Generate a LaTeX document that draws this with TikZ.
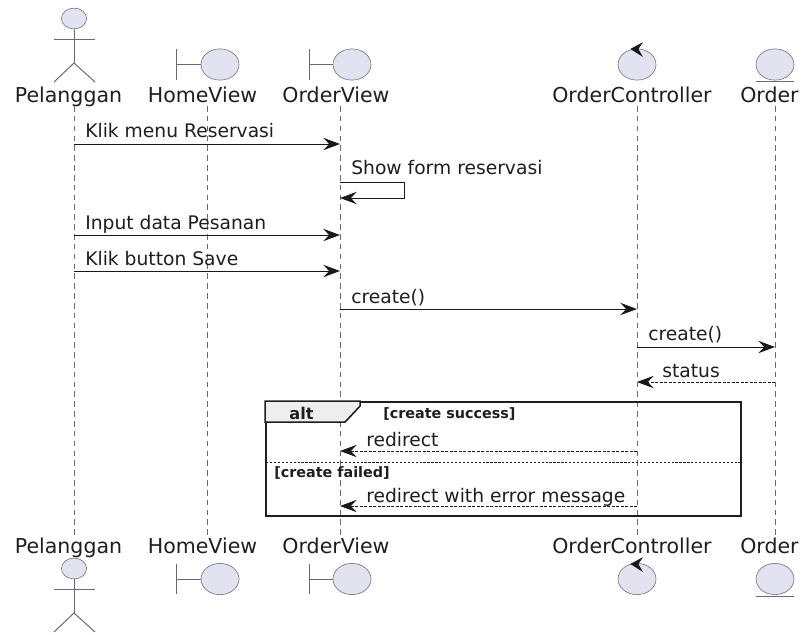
\documentclass[tikz,border=0pt]{standalone}
\usepackage{fontspec}
\setmainfont{DejaVu Sans}
\usetikzlibrary{positioning,shapes,calc,arrows.meta}
\definecolor{partfill}{RGB}{226,226,240}
\definecolor{partline}{RGB}{105,105,115}
\definecolor{inkdark}{RGB}{30,30,32}
\definecolor{tabfill}{RGB}{238,238,238}
\tikzset{
	partname/.style={font=\fontsize{14.6}{16}\selectfont, text=inkdark, inner sep=0pt, anchor=base},
	msglabel/.style={font=\fontsize{13.3}{15}\selectfont, text=inkdark, inner sep=0pt, anchor=base west},
	guardlabel/.style={font=\bfseries\fontsize{10.2}{12}\selectfont, text=inkdark, inner sep=0pt, anchor=base west},
	bubble/.style={draw=partline, fill=partfill, ellipse, inner sep=0pt, minimum width=0.95cm, minimum height=0.78cm},
	head/.style={draw=partline, fill=partfill, ellipse, inner sep=0pt, minimum width=0.63cm, minimum height=0.52cm},
	stick/.style={draw=partline, line width=0.7pt},
	lifeline/.style={draw=partline, line width=0.6pt, dash pattern=on 4pt off 3pt},
	msg/.style={draw=black!90, line width=0.7pt, -{Stealth[length=0.42cm,width=0.31cm,inset=0.15cm]}},
	reply/.style={draw=black!90, line width=0.6pt, dash pattern=on 2pt off 1.2pt, -{Stealth[length=0.42cm,width=0.31cm,inset=0.15cm]}}
}
\begin{document}
\begin{tikzpicture}[x=0.025cm,y=-0.025cm]
			\useasboundingbox (0,0) rectangle (802,634);
			
			% lifelines
			\coordinate (pt) at (74,106);
			\coordinate (pb) at (74,537);
			\coordinate (ht) at (207,106);
			\coordinate (hb) at (207,537);
			\coordinate (ot) at (340,106);
			\coordinate (ob) at (340,537);
			\coordinate (ct) at (637,106);
			\coordinate (cb) at (637,537);
			\coordinate (et) at (775,106);
			\coordinate (eb) at (775,537);
			\draw[lifeline] (pt) -- (pb);
			\draw[lifeline] (ht) -- (hb);
			\draw[lifeline] (ot) -- (ob);
			\draw[lifeline] (ct) -- (cb);
			\draw[lifeline] (et) -- (eb);
			
			% actors
			\node[head] (actor) at (74,18.5) {};
			\coordinate (hip) at (74,63);
			\draw[stick] (actor) -- (hip);
			\draw[stick] (54,39) -- (95,39);
			\draw[stick] (54,82) -- (hip) -- (95,82);
			
			\node[head] (actor2) at (74,568.5) {};
			\coordinate (hip2) at (74,613);
			\draw[stick] (actor2) -- (hip2);
			\draw[stick] (54,589) -- (95,589);
			\draw[stick] (54,632) -- (hip2) -- (95,632);
			
			% top row
			\node[partname] (pelanggan) at (68.5,102) {Pelanggan};
			\node[partname] (homeview) at (202.5,102) {HomeView};
			\node[partname] (orderview) at (336,102) {OrderView};
			\node[partname] (ordercontroller) at (632,102) {OrderController};
			\node[partname] (order) at (769.5,102) {Order};
			
			% bottom row
			\node[partname] (pelanggan2) at (68.5,553) {Pelanggan};
			\node[partname] (homeview2) at (202.5,553) {HomeView};
			\node[partname] (orderview2) at (336,553) {OrderView};
			\node[partname] (ordercontroller2) at (632,553) {OrderController};
			\node[partname] (order2) at (769.5,553) {Order};
			
			% boundaries
			\node[bubble] (hv) at (220,64.5) {};
			\draw[stick] (176,49) -- (176,80);
			\draw[stick] (176,64.5) -- (hv);
			\node[bubble] (ov) at (352,64.5) {};
			\draw[stick] (309,49) -- (309,80);
			\draw[stick] (309,64.5) -- (ov);
			
			\node[bubble] (hv2) at (220,579) {};
			\draw[stick] (176,564) -- (176,594);
			\draw[stick] (176,579) -- (hv2);
			\node[bubble] (ov2) at (352,579) {};
			\draw[stick] (309,564) -- (309,594);
			\draw[stick] (309,579) -- (ov2);
			
			% controller and entity
			\node[bubble] (oc) at (637,64.5) {};
			\draw[draw=black!90, fill=black!90] (631,49) -- (642,43) -- (638,49) -- (642,56) -- cycle;
			\node[bubble] (en) at (775,64.5) {};
			\draw[stick] (756,81) -- (794,81);
			
			\node[bubble] (oc2) at (637,579) {};
			\draw[draw=black!90, fill=black!90] (631,564) -- (642,558) -- (638,564) -- (642,571) -- cycle;
			\node[bubble] (en2) at (775,579) {};
			\draw[stick] (756,596) -- (794,596);
			
			% messages
			\coordinate (m1a) at (74,144);
			\coordinate (m1b) at (340,144);
			\coordinate (m2a) at (340,182);
			\coordinate (m2b) at (404,182);
			\coordinate (m2c) at (404,198);
			\coordinate (m2d) at (340,198);
			\coordinate (m3a) at (74,235);
			\coordinate (m3b) at (340,235);
			\coordinate (m4a) at (74,271);
			\coordinate (m4b) at (340,271);
			\coordinate (m5a) at (340,309);
			\coordinate (m5b) at (637,309);
			\coordinate (m6a) at (637,347);
			\coordinate (m6b) at (775,347);
			\coordinate (m7a) at (775,382);
			\coordinate (m7b) at (637,382);
			\coordinate (m8a) at (637,451);
			\coordinate (m8b) at (340,451);
			\coordinate (m9a) at (637,506);
			\coordinate (m9b) at (340,506);
			
			\draw[msg] (m1a) -- (m1b);
			\draw[msg] (m2a) -- (m2b) -- (m2c) -- (m2d);
			\draw[msg] (m3a) -- (m3b);
			\draw[msg] (m4a) -- (m4b);
			\draw[msg] (m5a) -- (m5b);
			\draw[msg] (m6a) -- (m6b);
			\draw[reply] (m7a) -- (m7b);
			\draw[reply] (m8a) -- (m8b);
			\draw[reply] (m9a) -- (m9b);
			
			\node[msglabel] (l1) at (85,137) {Klik menu Reservasi};
			\node[msglabel] (l2) at (351,174) {Show form reservasi};
			\node[msglabel] (l3) at (85,229) {Input data Pesanan};
			\node[msglabel] (l4) at (85,265) {Klik button Save};
			\node[msglabel] (l5) at (351,303) {create()};
			\node[msglabel] (l6) at (648,340) {create()};
			\node[msglabel] (l7) at (662,377) {status};
			\node[msglabel] (l8) at (366,446) {redirect};
			\node[msglabel] (l9) at (366,502) {redirect with error message};
			
			% alt frame
			\node[draw=inkdark, line width=1.3pt, minimum width=11.875cm, minimum height=2.85cm, inner sep=0pt] (frame) at (503.5,459) {};
			\draw[draw=inkdark, line width=1.1pt, fill=tabfill] (frame.north west) -- ($(frame.north west)+(95,0)$) -- ($(frame.north west)+(95,5)$) -- ($(frame.north west)+(80,21)$) -- ($(frame.north west)+(0,21)$) -- cycle;
			\node[font=\bfseries\fontsize{11.5}{13}\selectfont, text=inkdark, inner sep=0pt, anchor=base] (alt) at (301.5,419) {alt};
			\node[guardlabel] (g1) at (383,418) {[create success]};
			\coordinate (splita) at (266,462);
			\coordinate (splitb) at (741,462);
			\draw[draw=inkdark, line width=0.5pt, dash pattern=on 1.6pt off 1.2pt] (splita) -- (splitb);
			\node[guardlabel] (g2) at (274,477) {[create failed]};
\end{tikzpicture}
\end{document}
